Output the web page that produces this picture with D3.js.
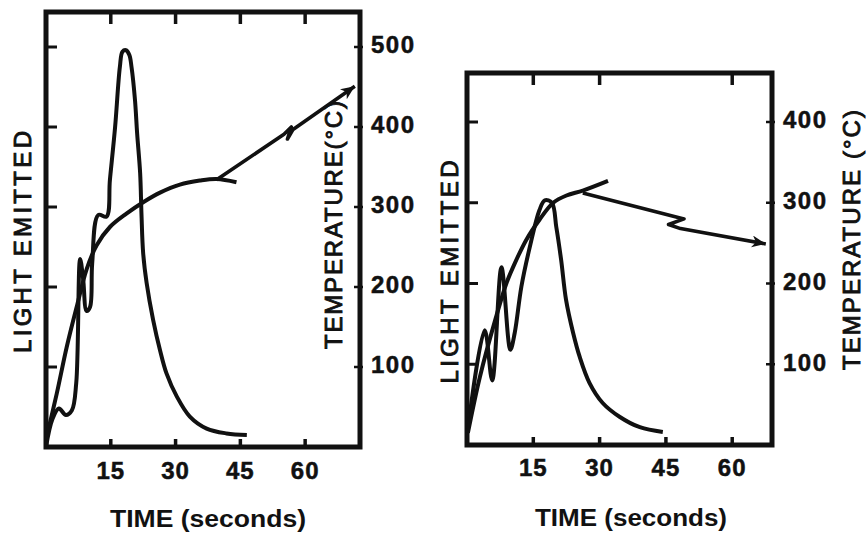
<!DOCTYPE html>
<html>
<head>
<meta charset="utf-8">
<script src="https://cdn.jsdelivr.net/npm/d3@7"></script>
<style>
body{margin:0;background:#fff;}
svg text{font-family:"Liberation Sans",Arial,sans-serif;fill:#111;}
</style>
</head>
<body>
<svg id="chart" width="866" height="545"></svg>
<script>

// axis ticks
var timeTicks = [15, 30, 45, 60];
var topTicksB = [15, 30, 60];
var tempTicksA = [100, 200, 300, 400, 500];
var tempTicksB = [100, 200, 300, 400];
var lightTicksA = [1, 2, 3, 4, 5];
var lightTicksB = [1, 2, 3, 4];

// left panel, [seconds, value]
var lightA = [[0,0],[1.5,0.35],[3,0.48],[4.6,0.4],[6,0.46],[7,0.8],[7.9,2.35],[8.6,2.1],[9.4,1.7],
  [10.2,1.75],[10.7,2.3],[12.1,2.9],[14,2.88],[14.8,3.34],[16,4.0],[17.1,4.75],[17.7,4.94],
  [18.5,4.96],[19.3,4.9],[19.8,4.75],[20.6,4.34],[21.1,3.92],[21.8,3.42],[22.1,2.92],[22.5,2.42],
  [23.3,2.05],[24.8,1.59],[26.4,1.21],[27.9,0.92],[30.3,0.63],[33.3,0.38],[37.2,0.23],[41.8,0.17],[46.5,0.15]];
var tempA = [[0,9],[2.5,67],[4.8,125],[7.1,175],[9.4,222],[11.7,252],[14.8,275],[18.7,292],
  [22.5,306],[26.4,318],[31,328],[35.6,333],[39.5,335],[44.1,331]];
var heatA = [[39.5,334],[55.1,391],[56.8,400],[55.9,385],[57.2,397],[71.5,451]];

// right panel
var lightB = [[0.2,0.19],[4.0,1.42],[5.7,0.8],[7.8,2.2],[9.8,1.18],[10.8,1.39],[12.3,1.96],[14.2,2.45],
  [16.4,2.91],[17.6,3.03],[19.2,3.0],[20.2,2.7],[21.3,2.29],[22.4,1.8],[24.0,1.39],[25.5,1.09],
  [27.7,0.77],[30.7,0.52],[34.5,0.35],[39.1,0.22],[44.3,0.16]];
var tempB = [[0.2,15],[2.9,84],[6.6,159],[8.9,200],[10.4,220],[13.4,254],[16.4,279],[19.5,300],
  [22.5,309],[26.2,315],[31.9,327]];
var coolB = [[26.2,312],[49.1,280],[45.6,273],[48.3,268],[67.6,249]];


function Panel(opts){

  var self = this;
  this.o = opts;

  this.draw = function draw(svg){
    var o = self.o;
    var x = d3.scaleLinear().domain(o.tDomain).range([o.left, o.right]);
    var y = d3.scaleLinear().domain([0, o.tempMax]).range([o.bottom, o.tempTop]);
    var yl = d3.scaleLinear().domain([0, o.tempMax / 100]).range([o.bottom, o.tempTop]);

    var g = svg.append("g");

    // ticks
    g.selectAll(".tt").data(o.topTicks).enter().append("line")
      .attr("x1", function(d){ return x(d); }).attr("x2", function(d){ return x(d); })
      .attr("y1", o.top).attr("y2", o.top + 12)
      .attr("stroke", "#111").attr("stroke-width", 3.5);
    g.selectAll(".bt").data(timeTicks).enter().append("line")
      .attr("x1", function(d){ return x(d); }).attr("x2", function(d){ return x(d); })
      .attr("y1", o.bottom).attr("y2", o.bottom - 8)
      .attr("stroke", "#111").attr("stroke-width", 3.5);
    g.selectAll(".lt").data(o.lightTicks).enter().append("line")
      .attr("x1", o.left).attr("x2", o.left + 11)
      .attr("y1", function(d){ return yl(d); }).attr("y2", function(d){ return yl(d); })
      .attr("stroke", "#111").attr("stroke-width", 3);
    g.selectAll(".rt").data(o.tempTicks).enter().append("line")
      .attr("x1", o.right - 6).attr("x2", o.right + 3)
      .attr("y1", function(d){ return y(d); }).attr("y2", function(d){ return y(d); })
      .attr("stroke", "#111").attr("stroke-width", 2.5);

    // frame
    g.append("rect")
      .attr("x", o.left).attr("y", o.top)
      .attr("width", o.right - o.left).attr("height", o.bottom - o.top)
      .attr("fill", "none").attr("stroke", "#111").attr("stroke-width", 5);

    // tick labels
    g.selectAll(".xl").data(timeTicks).enter().append("text")
      .attr("x", function(d){ return x(d); }).attr("y", o.xLabelY)
      .attr("text-anchor", "middle").attr("dominant-baseline", "middle")
      .attr("font-size", 24).attr("font-weight", "bold").attr("letter-spacing", 1)
      .attr("stroke", "#111").attr("stroke-width", 0.5)
      .text(function(d){ return d; });
    g.selectAll(".yl").data(o.tempTicks).enter().append("text")
      .attr("x", o.right + 11).attr("y", function(d){ return y(d); })
      .attr("dominant-baseline", "middle")
      .attr("font-size", 24).attr("font-weight", "bold").attr("letter-spacing", 1.5)
      .attr("stroke", "#111").attr("stroke-width", 0.5)
      .text(function(d){ return d; });

    // curves
    var smooth = d3.line()
      .x(function(d){ return x(d[0]); })
      .curve(d3.curveCatmullRom.alpha(0.5));
    var straight = d3.line()
      .x(function(d){ return x(d[0]); })
      .y(function(d){ return y(d[1]); });

    g.append("path").datum(o.light)
      .attr("d", smooth.y(function(d){ return yl(d[1]); }))
      .attr("fill", "none").attr("stroke", "#111").attr("stroke-width", 4)
      .attr("stroke-linejoin", "round");
    g.append("path").datum(o.temp)
      .attr("d", smooth.y(function(d){ return y(d[1]); }))
      .attr("fill", "none").attr("stroke", "#111").attr("stroke-width", 4)
      .attr("stroke-linejoin", "round");
    g.append("path").datum(o.arrow)
      .attr("d", straight)
      .attr("fill", "none").attr("stroke", "#111").attr("stroke-width", 3.6)
      .attr("stroke-linejoin", "round")
      .attr("marker-end", "url(#head)");

    // axis titles
    g.append("text")
      .attr("transform", "translate(" + o.lightTitle[0] + "," + o.lightTitle[1] + ") rotate(-90)")
      .attr("text-anchor", "middle").attr("dominant-baseline", "middle")
      .attr("font-size", 24).attr("textLength", o.lightTitle[2]).attr("lengthAdjust", "spacing")
      .attr("stroke", "#111").attr("stroke-width", 0.9)
      .text("LIGHT EMITTED");
    g.append("text")
      .attr("transform", "translate(" + o.tempTitle[0] + "," + o.tempTitle[1] + ") rotate(-90)")
      .attr("text-anchor", "middle").attr("dominant-baseline", "middle")
      .attr("font-size", 24).attr("textLength", o.tempTitle[2]).attr("lengthAdjust", "spacing")
      .attr("stroke", "#111").attr("stroke-width", 0.9)
      .text(o.tempText);
    g.append("text")
      .attr("x", o.timeTitle[0]).attr("y", o.timeTitle[1])
      .attr("text-anchor", "middle").attr("dominant-baseline", "middle")
      .attr("font-size", 23).attr("font-weight", "bold")
      .attr("textLength", o.timeTitle[2]).attr("lengthAdjust", "spacingAndGlyphs")
      .text("TIME (seconds)");
  }
}


var svg = d3.select("#chart");

svg.append("defs").append("marker")
  .attr("id", "head")
  .attr("markerUnits", "userSpaceOnUse")
  .attr("markerWidth", 16).attr("markerHeight", 14)
  .attr("refX", 14).attr("refY", 6)
  .attr("orient", "auto")
  .append("path")
    .attr("d", "M0,0 L14,6 L0,12 L4,6 Z")
    .attr("fill", "#111");

new Panel({
  left: 46, right: 360, top: 12, bottom: 447, tempTop: 47, tempMax: 500,
  tDomain: [0, 72.7],
  topTicks: timeTicks, tempTicks: tempTicksA, lightTicks: lightTicksA,
  light: lightA, temp: tempA, arrow: heatA,
  xLabelY: 473,
  lightTitle: [25, 242, 222], tempTitle: [336, 225, 248], tempText: "TEMPERATURE(°C)",
  timeTitle: [208, 521, 196]
}).draw(svg);

new Panel({
  left: 467, right: 772, top: 73, bottom: 445, tempTop: 122, tempMax: 400,
  tDomain: [0, 69],
  topTicks: topTicksB, tempTicks: tempTicksB, lightTicks: lightTicksB,
  light: lightB, temp: tempB, arrow: coolB,
  xLabelY: 470,
  lightTitle: [452, 272, 223], tempTitle: [854, 240, 260], tempText: "TEMPERATURE (°C)",
  timeTitle: [631, 520, 192]
}).draw(svg);

</script>
</body>
</html>
